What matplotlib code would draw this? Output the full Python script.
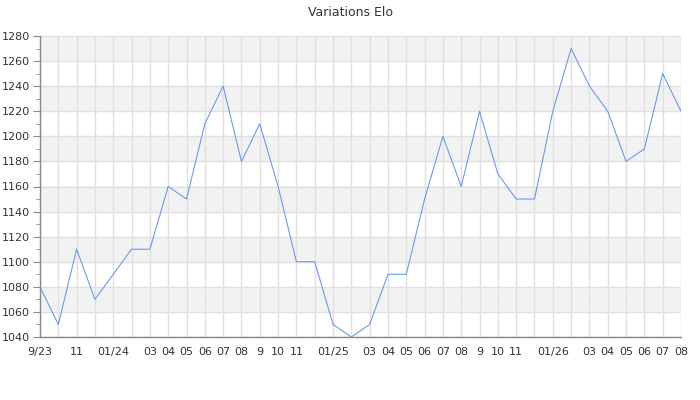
import matplotlib
matplotlib.use("Agg")
import matplotlib.pyplot as plt
import numpy as np

# monthly Elo, Sept 2023 -> Aug 2026
elo = [1080, 1050, 1110, 1070, 1090, 1110, 1110, 1160, 1150, 1210, 1240, 1180,
       1210, 1160, 1100, 1100, 1050, 1040, 1050, 1090, 1090, 1150, 1200, 1160,
       1220, 1170, 1150, 1150, 1220, 1270, 1240, 1220, 1180, 1190, 1250, 1220]
month_labels = ["9/23", "", "11", "", "01/24", "", "03", "04", "05", "06", "07", "08",
                "9", "10", "11", "", "01/25", "", "03", "04", "05", "06", "07", "08",
                "9", "10", "11", "", "01/26", "", "03", "04", "05", "06", "07", "08"]
y_min, y_max, y_step = 1040, 1280, 20

x = np.arange(len(elo))

fig = plt.figure(figsize=(7, 4), dpi=100)
ax = fig.add_axes([40 / 700, 1 - 337 / 400, 641 / 700, 301 / 400])

# alternating bands
for i, lo in enumerate(range(y_min, y_max, y_step)):
    if i % 2 == 1:
        ax.axhspan(lo, lo + y_step, color="#f2f2f2", zorder=0, lw=0)

ax.set_xlim(0, len(elo) - 1)
ax.set_ylim(y_min, y_max)
ax.set_xticks(x)
ax.set_xticklabels(month_labels)
ax.set_yticks(range(y_min, y_max + 1, y_step))
ax.set_yticks(range(y_min + 10, y_max, y_step), minor=True)

ax.grid(True, which="major", color="#e0e0e0", lw=1, zorder=1)
ax.set_axisbelow(True)

ax.plot(x, elo, color="#6495ed", lw=0.75, zorder=3)

for side in ["top", "right"]:
    ax.spines[side].set_visible(False)
for side in ["left", "bottom"]:
    ax.spines[side].set_color("#888888")
    ax.spines[side].set_linewidth(1)

ax.tick_params(axis="x", length=0, pad=7, labelsize=8, labelcolor="#333333")
ax.tick_params(axis="y", which="major", length=5, color="#888888",
               labelsize=8, labelcolor="#333333", pad=2)
ax.tick_params(axis="y", which="minor", length=3, color="#888888")

fig.text(350 / 700, 1 - 12 / 400, "Variations Elo", ha="center", va="center",
         fontsize=9, color="#333333")

fig.savefig("out.png", dpi=100)
